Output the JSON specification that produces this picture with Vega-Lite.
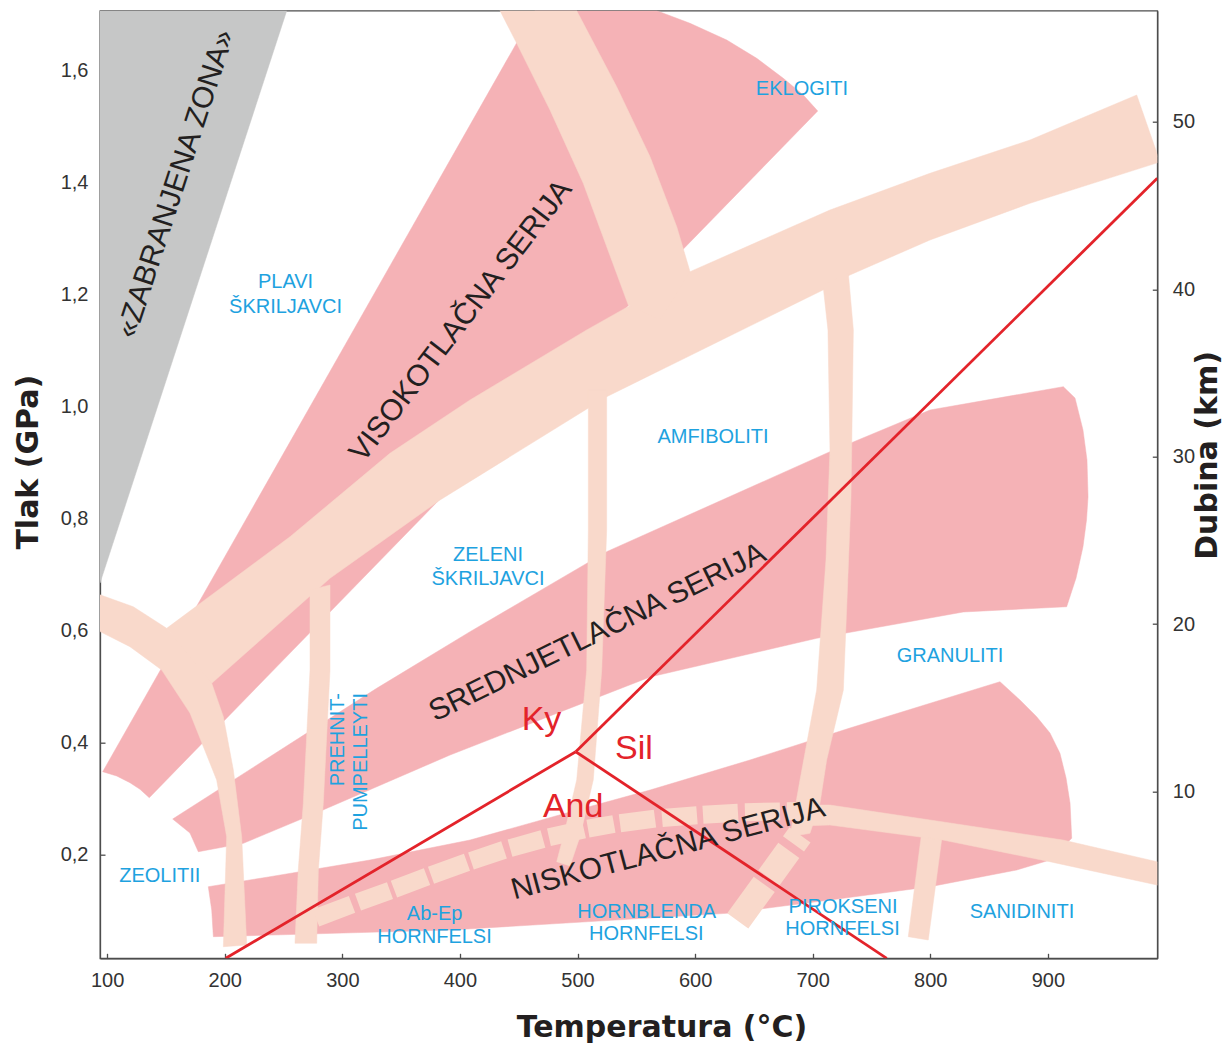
{
  "$schema": "https://vega.github.io/schema/vega-lite/v6.json",
  "autosize": {"type": "none"},
  "padding": {"left": 100, "top": 10.7, "right": 74.7, "bottom": 86.7},
  "width": 1057.3,
  "height": 947.6,
  "background": "white",
  "config": {
    "view": {"stroke": "#4d4d4d", "strokeWidth": 1.3},
    "axis": {"grid": false, "domainColor": "#4d4d4d", "domainWidth": 1.3, "tickColor": "#4d4d4d", "tickWidth": 1.3, "tickSize": -5, "labelFont": "Liberation Sans", "labelFontSize": 20, "labelColor": "#333333", "labelOverlap": false, "labelFlush": false, "titleFont": "DejaVu Sans", "titleFontWeight": "bold", "titleFontSize": 30, "titleColor": "#231F20"}
  },
  "datasets": {
    "poly": [
      {"id": "zz", "i": 0, "T": 93.89, "P": 1.7064}, {"id": "zz", "i": 1, "T": 252.7, "P": 1.7064}, {"id": "zz", "i": 2, "T": 93.89, "P": 0.6845},
      {"id": "hp", "i": 0, "T": 96.2, "P": 0.3475}, {"id": "hp", "i": 1, "T": 463.8, "P": 1.7064}, {"id": "hp", "i": 2, "T": 567.4, "P": 1.7064}, {"id": "hp", "i": 3, "T": 595.7, "P": 1.6839}, {"id": "hp", "i": 4, "T": 626.9, "P": 1.6541}, {"id": "hp", "i": 5, "T": 652.4, "P": 1.6214}, {"id": "hp", "i": 6, "T": 675.0, "P": 1.5857}, {"id": "hp", "i": 7, "T": 692.0, "P": 1.5559}, {"id": "hp", "i": 8, "T": 704.3, "P": 1.5273}, {"id": "hp", "i": 9, "T": 135.8, "P": 0.3011}, {"id": "hp", "i": 10, "T": 127.9, "P": 0.3161}, {"id": "hp", "i": 11, "T": 119.4, "P": 0.3279}, {"id": "hp", "i": 12, "T": 108.1, "P": 0.3398},
      {"id": "mp", "i": 0, "T": 155.7, "P": 0.263}, {"id": "mp", "i": 1, "T": 329.2, "P": 0.4964}, {"id": "mp", "i": 2, "T": 408.6, "P": 0.5975}, {"id": "mp", "i": 3, "T": 524.8, "P": 0.7404}, {"id": "mp", "i": 4, "T": 714.7, "P": 0.9189}, {"id": "mp", "i": 5, "T": 799.8, "P": 0.9934}, {"id": "mp", "i": 6, "T": 913.2, "P": 1.035}, {"id": "mp", "i": 7, "T": 923.1, "P": 1.0148}, {"id": "mp", "i": 8, "T": 929.9, "P": 0.9577}, {"id": "mp", "i": 9, "T": 933.3, "P": 0.9041}, {"id": "mp", "i": 10, "T": 934.2, "P": 0.8386}, {"id": "mp", "i": 11, "T": 932.9, "P": 0.797}, {"id": "mp", "i": 12, "T": 929.9, "P": 0.7493}, {"id": "mp", "i": 13, "T": 924.0, "P": 0.6934}, {"id": "mp", "i": 14, "T": 916.0, "P": 0.6421}, {"id": "mp", "i": 15, "T": 828.1, "P": 0.6327}, {"id": "mp", "i": 16, "T": 703.4, "P": 0.5857}, {"id": "mp", "i": 17, "T": 561.7, "P": 0.5166}, {"id": "mp", "i": 18, "T": 476.6, "P": 0.447}, {"id": "mp", "i": 19, "T": 391.6, "P": 0.3773}, {"id": "mp", "i": 20, "T": 283.5, "P": 0.2791}, {"id": "mp", "i": 21, "T": 215.8, "P": 0.2196}, {"id": "mp", "i": 22, "T": 177.5, "P": 0.2046}, {"id": "mp", "i": 23, "T": 170.4, "P": 0.238},
      {"id": "lp", "i": 0, "T": 186.0, "P": 0.1421}, {"id": "lp", "i": 1, "T": 238.5, "P": 0.16}, {"id": "lp", "i": 2, "T": 323.5, "P": 0.1898}, {"id": "lp", "i": 3, "T": 408.6, "P": 0.2255}, {"id": "lp", "i": 4, "T": 493.6, "P": 0.2755}, {"id": "lp", "i": 5, "T": 561.7, "P": 0.3148}, {"id": "lp", "i": 6, "T": 646.7, "P": 0.3684}, {"id": "lp", "i": 7, "T": 731.7, "P": 0.4255}, {"id": "lp", "i": 8, "T": 859.3, "P": 0.5082}, {"id": "lp", "i": 9, "T": 876.3, "P": 0.4755}, {"id": "lp", "i": 10, "T": 890.5, "P": 0.4457}, {"id": "lp", "i": 11, "T": 901.8, "P": 0.4166}, {"id": "lp", "i": 12, "T": 910.3, "P": 0.3804}, {"id": "lp", "i": 13, "T": 915.5, "P": 0.3363}, {"id": "lp", "i": 14, "T": 918.9, "P": 0.2911}, {"id": "lp", "i": 15, "T": 920.3, "P": 0.2286}, {"id": "lp", "i": 16, "T": 901.8, "P": 0.1898}, {"id": "lp", "i": 17, "T": 873.5, "P": 0.172}, {"id": "lp", "i": 18, "T": 799.8, "P": 0.1421}, {"id": "lp", "i": 19, "T": 714.7, "P": 0.1184}, {"id": "lp", "i": 20, "T": 626.9, "P": 0.0946}, {"id": "lp", "i": 21, "T": 391.6, "P": 0.0648}, {"id": "lp", "i": 22, "T": 190.3, "P": 0.0529}, {"id": "lp", "i": 23, "T": 188.9, "P": 0.1005},
      {"id": "lb", "i": 0, "T": 89.6, "P": 0.6666}, {"id": "lb", "i": 1, "T": 122.2, "P": 0.6421}, {"id": "lb", "i": 2, "T": 150.6, "P": 0.6036}, {"id": "lb", "i": 3, "T": 174.7, "P": 0.547}, {"id": "lb", "i": 4, "T": 188.9, "P": 0.5054}, {"id": "lb", "i": 5, "T": 198.8, "P": 0.4457}, {"id": "lb", "i": 6, "T": 207.3, "P": 0.3505}, {"id": "lb", "i": 7, "T": 214.4, "P": 0.2314}, {"id": "lb", "i": 8, "T": 218.7, "P": 0.038}, {"id": "lb", "i": 9, "T": 198.8, "P": 0.035}, {"id": "lb", "i": 10, "T": 201.6, "P": 0.2314}, {"id": "lb", "i": 11, "T": 193.1, "P": 0.3327}, {"id": "lb", "i": 12, "T": 170.4, "P": 0.4523}, {"id": "lb", "i": 13, "T": 146.4, "P": 0.5291}, {"id": "lb", "i": 14, "T": 119.4, "P": 0.5707}, {"id": "lb", "i": 15, "T": 89.6, "P": 0.6023},
      {"id": "bb", "i": 0, "T": 150.6, "P": 0.6036}, {"id": "bb", "i": 1, "T": 255.5, "P": 0.7671}, {"id": "bb", "i": 2, "T": 340.5, "P": 0.9161}, {"id": "bb", "i": 3, "T": 408.6, "P": 1.0113}, {"id": "bb", "i": 4, "T": 507.8, "P": 1.1363}, {"id": "bb", "i": 5, "T": 595.7, "P": 1.2404}, {"id": "bb", "i": 6, "T": 714.7, "P": 1.3505}, {"id": "bb", "i": 7, "T": 799.8, "P": 1.4161}, {"id": "bb", "i": 8, "T": 884.8, "P": 1.4755}, {"id": "bb", "i": 9, "T": 975.6, "P": 1.5559}, {"id": "bb", "i": 10, "T": 995.4, "P": 1.4363}, {"id": "bb", "i": 11, "T": 884.8, "P": 1.3625}, {"id": "bb", "i": 12, "T": 799.8, "P": 1.297}, {"id": "bb", "i": 13, "T": 731.7, "P": 1.2345}, {"id": "bb", "i": 14, "T": 708.8, "P": 1.2077}, {"id": "bb", "i": 15, "T": 524.8, "P": 1.0171}, {"id": "bb", "i": 16, "T": 383.1, "P": 0.8327}, {"id": "bb", "i": 17, "T": 289.5, "P": 0.6929}, {"id": "bb", "i": 18, "T": 188.9, "P": 0.5054},
      {"id": "bB", "i": 0, "T": 430.8, "P": 1.72}, {"id": "bB", "i": 1, "T": 448.3, "P": 1.6482}, {"id": "bB", "i": 2, "T": 476.6, "P": 1.5291}, {"id": "bB", "i": 3, "T": 504.9, "P": 1.3982}, {"id": "bB", "i": 4, "T": 543.2, "P": 1.1809}, {"id": "bB", "i": 5, "T": 570.2, "P": 1.1541}, {"id": "bB", "i": 6, "T": 595.7, "P": 1.2404}, {"id": "bB", "i": 7, "T": 584.4, "P": 1.3207}, {"id": "bB", "i": 8, "T": 561.7, "P": 1.4457}, {"id": "bB", "i": 9, "T": 533.3, "P": 1.5707}, {"id": "bB", "i": 10, "T": 495.9, "P": 1.72},
      {"id": "bC", "i": 0, "T": 509.2, "P": 1.0291}, {"id": "bC", "i": 1, "T": 509.2, "P": 0.7791}, {"id": "bC", "i": 2, "T": 507.8, "P": 0.5291}, {"id": "bC", "i": 3, "T": 499.3, "P": 0.3327}, {"id": "bC", "i": 4, "T": 489.4, "P": 0.2434}, {"id": "bC", "i": 5, "T": 482.3, "P": 0.1868}, {"id": "bC", "i": 6, "T": 493.6, "P": 0.1791}, {"id": "bC", "i": 7, "T": 502.1, "P": 0.2314}, {"id": "bC", "i": 8, "T": 513.4, "P": 0.3327}, {"id": "bC", "i": 9, "T": 520.6, "P": 0.5291}, {"id": "bC", "i": 10, "T": 524.8, "P": 0.7791}, {"id": "bC", "i": 11, "T": 524.8, "P": 1.0291},
      {"id": "bD", "i": 0, "T": 708.8, "P": 1.2166}, {"id": "bD", "i": 1, "T": 713.0, "P": 1.1363}, {"id": "bD", "i": 2, "T": 714.7, "P": 0.922}, {"id": "bD", "i": 3, "T": 711.3, "P": 0.7255}, {"id": "bD", "i": 4, "T": 703.4, "P": 0.4934}, {"id": "bD", "i": 5, "T": 689.2, "P": 0.3327}, {"id": "bD", "i": 6, "T": 680.7, "P": 0.2314}, {"id": "bD", "i": 7, "T": 697.7, "P": 0.2375}, {"id": "bD", "i": 8, "T": 706.2, "P": 0.2911}, {"id": "bD", "i": 9, "T": 711.9, "P": 0.3684}, {"id": "bD", "i": 10, "T": 726.1, "P": 0.4934}, {"id": "bD", "i": 11, "T": 729.2, "P": 0.6541}, {"id": "bD", "i": 12, "T": 732.6, "P": 0.8386}, {"id": "bD", "i": 13, "T": 734.6, "P": 1.1363}, {"id": "bD", "i": 14, "T": 730.3, "P": 1.238},
      {"id": "bE", "i": 0, "T": 272.5, "P": 0.672}, {"id": "bE", "i": 1, "T": 272.5, "P": 0.5291}, {"id": "bE", "i": 2, "T": 266.8, "P": 0.2911}, {"id": "bE", "i": 3, "T": 262.5, "P": 0.172}, {"id": "bE", "i": 4, "T": 259.7, "P": 0.0411}, {"id": "bE", "i": 5, "T": 278.2, "P": 0.0411}, {"id": "bE", "i": 6, "T": 279.6, "P": 0.172}, {"id": "bE", "i": 7, "T": 283.8, "P": 0.2911}, {"id": "bE", "i": 8, "T": 289.5, "P": 0.5291}, {"id": "bE", "i": 9, "T": 289.5, "P": 0.6809},
      {"id": "bF", "i": 0, "T": 793.0, "P": 0.2434}, {"id": "bF", "i": 1, "T": 781.3, "P": 0.0529}, {"id": "bF", "i": 2, "T": 798.3, "P": 0.047}, {"id": "bF", "i": 3, "T": 810.8, "P": 0.2434},
      {"id": "sl", "i": 0, "T": 689.2, "P": 0.288}, {"id": "sl", "i": 1, "T": 714.7, "P": 0.288}, {"id": "sl", "i": 2, "T": 799.8, "P": 0.2613}, {"id": "sl", "i": 3, "T": 912.9, "P": 0.2255}, {"id": "sl", "i": 4, "T": 992.8, "P": 0.1868}, {"id": "sl", "i": 5, "T": 1008.2, "P": 0.1773}, {"id": "sl", "i": 6, "T": 1008.2, "P": 0.1345}, {"id": "sl", "i": 7, "T": 992.8, "P": 0.1452}, {"id": "sl", "i": 8, "T": 901.8, "P": 0.1868}, {"id": "sl", "i": 9, "T": 810.8, "P": 0.2255}, {"id": "sl", "i": 10, "T": 714.7, "P": 0.2523}, {"id": "sl", "i": 11, "T": 689.2, "P": 0.2505}
    ],
    "dashes": [
      {"set": "low", "T": 277.6, "P": 0.0863, "T2": 308.2, "P2": 0.1107},
      {"set": "low", "T": 313.3, "P": 0.1146, "T2": 340.5, "P2": 0.1352},
      {"set": "low", "T": 343.9, "P": 0.1377, "T2": 372.0, "P2": 0.16},
      {"set": "low", "T": 375.4, "P": 0.1627, "T2": 406.0, "P2": 0.1859},
      {"set": "low", "T": 409.4, "P": 0.1882, "T2": 437.5, "P2": 0.2079},
      {"set": "low", "T": 442.6, "P": 0.2109, "T2": 470.6, "P2": 0.2273},
      {"set": "low", "T": 475.7, "P": 0.2304, "T2": 505.5, "P2": 0.2443},
      {"set": "low", "T": 508.9, "P": 0.2459, "T2": 531.0, "P2": 0.2541},
      {"set": "low", "T": 536.1, "P": 0.2555, "T2": 565.9, "P2": 0.2638},
      {"set": "low", "T": 571.9, "P": 0.2648, "T2": 601.6, "P2": 0.2698},
      {"set": "low", "T": 606.7, "P": 0.2705, "T2": 636.5, "P2": 0.2743},
      {"set": "low", "T": 642.4, "P": 0.275, "T2": 672.2, "P2": 0.2766},
      {"set": "low", "T": 678.2, "P": 0.2768, "T2": 693.5, "P2": 0.2777},
      {"set": "d", "T": 689.2, "P": 0.2345, "T2": 683.7, "P2": 0.2186},
      {"set": "d", "T": 679.7, "P": 0.207, "T2": 662.8, "P2": 0.1579},
      {"set": "d", "T": 658.8, "P": 0.1463, "T2": 636.3, "P2": 0.0811}
    ],
    "red": [
      {"T": 200.8, "P": 0.0143, "T2": 498.5, "P2": 0.3832},
      {"T": 498.5, "P": 0.3832, "T2": 993.1, "P2": 1.4071},
      {"T": 498.5, "P": 0.3832, "T2": 763.0, "P2": 0.0143}
    ],
    "labels": [
      {"g": "blue", "text": "EKLOGITI", "T": 690.9, "P": 1.5559},
      {"g": "blue", "text": "PLAVI", "T": 251.7, "P": 1.2107},
      {"g": "blue", "text": "ŠKRILJAVCI", "T": 251.7, "P": 1.1671},
      {"g": "blue", "text": "AMFIBOLITI", "T": 615.2, "P": 0.9339},
      {"g": "blue", "text": "ZELENI", "T": 423.9, "P": 0.7238},
      {"g": "blue", "text": "ŠKRILJAVCI", "T": 423.9, "P": 0.6809},
      {"g": "blue", "text": "GRANULITI", "T": 816.8, "P": 0.5439},
      {"g": "blue", "text": "ZEOLITII", "T": 144.7, "P": 0.1511},
      {"g": "blue", "text": "Ab-Ep", "T": 378.5, "P": 0.0827},
      {"g": "blue", "text": "HORNFELSI", "T": 378.4, "P": 0.0411},
      {"g": "blue", "text": "HORNBLENDA", "T": 558.8, "P": 0.0857},
      {"g": "blue", "text": "HORNFELSI", "T": 558.5, "P": 0.047},
      {"g": "blue", "text": "PIROKSENI", "T": 725.8, "P": 0.0946},
      {"g": "blue", "text": "HORNFELSI", "T": 725.4, "P": 0.0559},
      {"g": "blue", "text": "SANIDINITI", "T": 878.0, "P": 0.0857},
      {"g": "bluerot", "text": "PREHNIT-", "T": 301.4, "P": 0.488},
      {"g": "bluerot", "text": "PUMPELLEYTI", "T": 320.7, "P": 0.488},
      {"g": "red", "text": "Ky", "T": 452.5, "P": 0.422},
      {"g": "red", "text": "Sil", "T": 531.9, "P": 0.3697},
      {"g": "red", "text": "And", "T": 470.6, "P": 0.2661},
      {"g": "zz", "text": "«ZABRANJENA ZONA»", "T": 158.5, "P": 1.397},
      {"g": "vs", "text": "VISOKOTLAČNA SERIJA", "T": 400.9, "P": 1.1523},
      {"g": "ss", "text": "SREDNJETLAČNA SERIJA", "T": 517.0, "P": 0.5961},
      {"g": "ns", "text": "NISKOTLAČNA SERIJA", "T": 577.0, "P": 0.2095}
    ],
    "depth": [{"km": 0.05}, {"km": 56.63}]
  },
  "resolve": {"scale": {"y": "independent"}},
  "layer": [
    {
      "encoding": {
        "x": {"field": "T", "type": "quantitative", "scale": {"domain": [93.89, 993.1], "nice": false, "zero": false},
          "axis": {"values": [100, 200, 300, 400, 500, 600, 700, 800, 900], "title": "Temperatura (°C)", "titleX": 561.5, "titleY": 69.5, "titleBaseline": "middle", "titleAlign": "center", "labelPadding": 17}},
        "y": {"field": "P", "type": "quantitative", "scale": {"domain": [0.0143, 1.7064], "nice": false, "zero": false},
          "axis": {"orient": "left", "values": [0.2, 0.4, 0.6, 0.8, 1.0, 1.2, 1.4, 1.6], "labelExpr": "replace(format(datum.value, '.1f'), '.', ',')", "title": "Tlak (GPa)", "titleX": -72, "titleY": 451, "titleAngle": 270, "titleBaseline": "middle", "titleAlign": "center", "labelPadding": 17}}
      },
      "layer": [
        {
          "data": {"name": "poly"},
          "transform": [{"filter": {"field": "id", "equal": "zz"}}],
          "mark": {"type": "line", "interpolate": "linear-closed", "fill": "#C6C7C7", "stroke": "#C6C7C7", "strokeWidth": 0.5, "clip": true},
          "encoding": {
            "order": {"field": "i", "type": "quantitative"},
            "detail": {"field": "id", "type": "nominal"}
          }
        },
        {
          "data": {"name": "poly"},
          "transform": [{"filter": {"field": "id", "oneOf": ["hp", "mp", "lp"]}}],
          "mark": {"type": "line", "interpolate": "linear-closed", "fill": "#F5B2B6", "stroke": "#F5B2B6", "strokeWidth": 0.5, "clip": true},
          "encoding": {
            "order": {"field": "i", "type": "quantitative"},
            "detail": {"field": "id", "type": "nominal"}
          }
        },
        {
          "data": {"name": "poly"},
          "transform": [{"filter": {"field": "id", "oneOf": ["lb", "bb", "bB", "bC", "bD", "bE", "bF", "sl"]}}],
          "mark": {"type": "line", "interpolate": "linear-closed", "fill": "#F9D9CB", "stroke": "#F9D9CB", "strokeWidth": 0.5, "clip": true},
          "encoding": {
            "order": {"field": "i", "type": "quantitative"},
            "detail": {"field": "id", "type": "nominal"}
          }
        },
        {
          "data": {"name": "dashes"},
          "transform": [{"filter": {"field": "set", "equal": "low"}}],
          "mark": {"type": "rule", "color": "#F9D9CB", "strokeWidth": 18, "strokeCap": "butt", "clip": true},
          "encoding": {
            "x2": {"field": "T2"},
            "y2": {"field": "P2"}
          }
        },
        {
          "data": {"name": "dashes"},
          "transform": [{"filter": {"field": "set", "equal": "d"}}],
          "mark": {"type": "rule", "color": "#F9D9CB", "strokeWidth": 26, "strokeCap": "butt", "clip": true},
          "encoding": {
            "x2": {"field": "T2"},
            "y2": {"field": "P2"}
          }
        },
        {
          "data": {"name": "red"},
          "mark": {"type": "rule", "color": "#E3232A", "strokeWidth": 2.8, "clip": true},
          "encoding": {
            "x2": {"field": "T2"},
            "y2": {"field": "P2"}
          }
        },
        {
          "data": {"name": "labels"},
          "transform": [{"filter": {"field": "g", "equal": "blue"}}],
          "mark": {"type": "text", "font": "Liberation Sans", "fontSize": 20, "color": "#1EA2DF", "align": "center", "baseline": "alphabetic"},
          "encoding": {"text": {"field": "text"}}
        },
        {
          "data": {"name": "labels"},
          "transform": [{"filter": {"field": "g", "equal": "bluerot"}}],
          "mark": {"type": "text", "font": "Liberation Sans", "fontSize": 20, "color": "#1EA2DF", "align": "right", "baseline": "alphabetic", "angle": 270},
          "encoding": {"text": {"field": "text"}}
        },
        {
          "data": {"name": "labels"},
          "transform": [{"filter": {"field": "g", "equal": "red"}}],
          "mark": {"type": "text", "font": "Liberation Sans", "fontSize": 34, "color": "#E3232A", "align": "left", "baseline": "alphabetic"},
          "encoding": {"text": {"field": "text"}}
        },
        {
          "data": {"name": "labels"},
          "transform": [{"filter": {"field": "g", "equal": "zz"}}],
          "mark": {"type": "text", "font": "Liberation Sans", "fontSize": 30, "color": "#231F20", "align": "center", "baseline": "middle", "angle": 288},
          "encoding": {"text": {"field": "text"}}
        },
        {
          "data": {"name": "labels"},
          "transform": [{"filter": {"field": "g", "equal": "vs"}}],
          "mark": {"type": "text", "font": "Liberation Sans", "fontSize": 30, "color": "#231F20", "align": "center", "baseline": "middle", "angle": 307.4},
          "encoding": {"text": {"field": "text"}}
        },
        {
          "data": {"name": "labels"},
          "transform": [{"filter": {"field": "g", "equal": "ss"}}],
          "mark": {"type": "text", "font": "Liberation Sans", "fontSize": 30, "color": "#231F20", "align": "center", "baseline": "middle", "angle": 334},
          "encoding": {"text": {"field": "text"}}
        },
        {
          "data": {"name": "labels"},
          "transform": [{"filter": {"field": "g", "equal": "ns"}}],
          "mark": {"type": "text", "font": "Liberation Sans", "fontSize": 30, "color": "#231F20", "align": "center", "baseline": "middle", "angle": 345},
          "encoding": {"text": {"field": "text"}}
        }
      ]
    },
    {
      "data": {"name": "depth"},
      "mark": {"type": "point", "opacity": 0},
      "encoding": {
        "y": {"field": "km", "type": "quantitative", "scale": {"domain": [0.05, 56.63], "nice": false, "zero": false},
          "axis": {"orient": "right", "values": [10, 20, 30, 40, 50], "title": "Dubina (km)", "titleX": 50.2, "titleY": 444.3, "titleAngle": 270, "titleBaseline": "middle", "titleAlign": "center", "labelPadding": 20}}
      }
    }
  ]
}
